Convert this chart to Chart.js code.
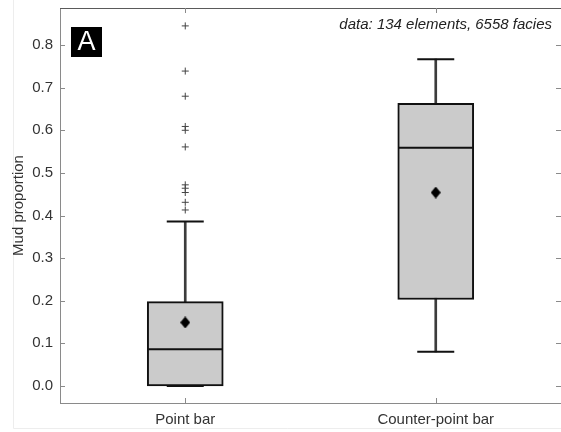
<!DOCTYPE html>
<html>
<head>
<meta charset="utf-8">
<script src="https://cdn.jsdelivr.net/npm/chart.js@4/dist/chart.umd.min.js"></script>
<style>
  html, body { margin: 0; padding: 0; background: #fff; }
  #wrap { width: 561px; height: 432px; }
</style>
</head>
<body>
<div id="wrap"><canvas id="c" width="561" height="432"></canvas></div>
<script>
// Box-plot summary of mud proportion per architectural element type
const categories = ['Point bar', 'Counter-point bar'];
const q1 = [0.000, 0.203];
const median = [0.086, 0.559];
const q3 = [0.198, 0.663];
const whiskerLow = [0.000, 0.080];
const whiskerHigh = [0.386, 0.767];
const means = [0.149, 0.454];
const outliersPointBar = [0.845, 0.739, 0.680, 0.609, 0.600, 0.561, 0.472, 0.464, 0.454, 0.431, 0.413];
const outliersCounterPointBar = [];
const yTicks = [0.0, 0.1, 0.2, 0.3, 0.4, 0.5, 0.6, 0.7, 0.8];
const yTitle = 'Mud proportion';
const panelLetter = 'A';
const note = 'data: 134 elements, 6558 facies';

const FONT = '"Liberation Sans", Arial, Helvetica, sans-serif';

// Point-marker controller whose wide markers (caps, medians) do not
// reserve extra padding around the chart area.
class MarkerController extends Chart.LineController {
  getMaxOverflow() { return 0; }
}
MarkerController.id = 'markers';
MarkerController.defaults = Object.assign({}, Chart.LineController.defaults, { showLine: false });
Chart.register(MarkerController);

function diamondImage(w, h, color) {
  const c = document.createElement('canvas');
  c.width = w; c.height = h;
  const g = c.getContext('2d');
  g.fillStyle = color;
  g.beginPath();
  g.moveTo(w / 2, 0);
  g.lineTo(w, h / 2);
  g.lineTo(w / 2, h);
  g.lineTo(0, h / 2);
  g.closePath();
  g.fill();
  return c;
}

const outlierPoints = [];
outliersPointBar.forEach(v => outlierPoints.push({ x: categories[0], y: v }));
outliersCounterPointBar.forEach(v => outlierPoints.push({ x: categories[1], y: v }));

const capPoints = [];
categories.forEach((c, i) => {
  capPoints.push({ x: c, y: whiskerLow[i] });
  capPoints.push({ x: c, y: whiskerHigh[i] });
});

function noEdgePadding(s) {
  s.paddingTop = 0; s.paddingBottom = 0;
  s.paddingLeft = 0; s.paddingRight = 0;
}

// inward tick marks, top frame line, panel letter and note
const framePlugin = {
  id: 'frame',
  beforeDraw(chart) {
    const ctx = chart.ctx;
    ctx.save();
    ctx.strokeStyle = '#ededed';
    ctx.lineWidth = 1;
    ctx.beginPath();
    ctx.moveTo(13.5, 0);
    ctx.lineTo(13.5, 428.5);
    ctx.lineTo(561, 428.5);
    ctx.stroke();
    ctx.restore();
  },
  afterDraw(chart) {
    const { ctx, chartArea: a, scales: { x, y } } = chart;
    ctx.save();
    ctx.lineWidth = 1;
    ctx.strokeStyle = '#5a5a5a';
    ctx.beginPath();
    ctx.moveTo(a.left, a.top + 0.5);
    ctx.lineTo(a.right, a.top + 0.5);
    ctx.stroke();

    ctx.strokeStyle = '#8a8a8a';
    ctx.beginPath();
    y.ticks.forEach(t => {
      const py = Math.round(y.getPixelForValue(t.value)) + 0.5;
      ctx.moveTo(a.left, py); ctx.lineTo(a.left + 5, py);
      ctx.moveTo(a.right, py); ctx.lineTo(a.right - 5, py);
    });
    x.ticks.forEach((t, i) => {
      const px = Math.round(x.getPixelForTick(i)) + 0.5;
      ctx.moveTo(px, a.bottom); ctx.lineTo(px, a.bottom - 5);
      ctx.moveTo(px, a.top); ctx.lineTo(px, a.top + 5);
    });
    ctx.stroke();

    // panel letter
    ctx.fillStyle = '#000';
    ctx.fillRect(a.left + 11, a.top + 19, 31, 30);
    ctx.fillStyle = '#fff';
    ctx.font = '27px ' + FONT;
    ctx.textAlign = 'center';
    ctx.textBaseline = 'middle';
    ctx.fillText(panelLetter, a.left + 26.5, a.top + 35);

    // note
    ctx.fillStyle = '#222';
    ctx.font = 'italic 15px ' + FONT;
    ctx.textAlign = 'right';
    ctx.textBaseline = 'middle';
    ctx.fillText(note, a.right - 9, a.top + 17);
    ctx.restore();
  }
};

new Chart(document.getElementById('c'), {
  type: 'bar',
  data: {
    labels: categories,
    datasets: [
      {
        type: 'bar',
        data: categories.map((c, i) => [whiskerLow[i], whiskerHigh[i]]),
        backgroundColor: '#3c3c3c',
        borderWidth: 0,
        barThickness: 2,
        grouped: false,
        order: 5
      },
      {
        type: 'bar',
        data: categories.map((c, i) => [q1[i], q3[i]]),
        backgroundColor: '#cbcbcb',
        borderColor: '#111',
        borderWidth: 2,
        borderSkipped: false,
        barThickness: 76,
        grouped: false,
        order: 4
      },
      {
        type: 'markers',
        data: capPoints,
        showLine: false,
        pointStyle: 'line',
        pointRadius: 18.5,
        pointBorderWidth: 2,
        pointBorderColor: '#111',
        order: 3
      },
      {
        type: 'markers',
        data: categories.map((c, i) => ({ x: c, y: median[i] })),
        showLine: false,
        pointStyle: 'line',
        pointRadius: 37,
        pointBorderWidth: 2,
        pointBorderColor: '#111',
        order: 2
      },
      {
        type: 'markers',
        data: categories.map((c, i) => ({ x: c, y: means[i] })),
        showLine: false,
        pointStyle: diamondImage(10, 12, '#000'),
        order: 1
      },
      {
        type: 'markers',
        data: outlierPoints,
        showLine: false,
        pointStyle: 'cross',
        pointRadius: 3.5,
        pointBorderWidth: 1,
        pointBorderColor: '#444',
        order: 0
      }
    ]
  },
  options: {
    responsive: false,
    animation: false,
    events: [],
    layout: { padding: { top: 8, right: 0, bottom: 0, left: 0 } },
    plugins: { legend: { display: false }, tooltip: { enabled: false } },
    scales: {
      x: {
        type: 'category',
        offset: true,
        grid: { display: false, drawTicks: false },
        border: { display: true, color: '#8a8a8a', width: 1 },
        ticks: { font: { family: FONT, size: 15 }, color: '#333', padding: 8 },
        afterFit(s) { s.height = 29; noEdgePadding(s); }
      },
      y: {
        type: 'linear',
        min: -0.04,
        max: 0.887,
        grid: { display: false, drawTicks: false },
        border: { display: true, color: '#8a8a8a', width: 1 },
        afterBuildTicks(s) { s.ticks = yTicks.map(v => ({ value: v })); },
        ticks: {
          font: { family: FONT, size: 15 },
          color: '#333',
          padding: 7,
          callback: v => Number(v).toFixed(1)
        },
        title: {
          display: true,
          text: yTitle,
          font: { family: FONT, size: 15 },
          color: '#333',
          padding: { top: 10, bottom: 0 }
        },
        afterFit(s) { s.width = 60; noEdgePadding(s); }
      }
    }
  },
  plugins: [framePlugin]
});
</script>
</body>
</html>
